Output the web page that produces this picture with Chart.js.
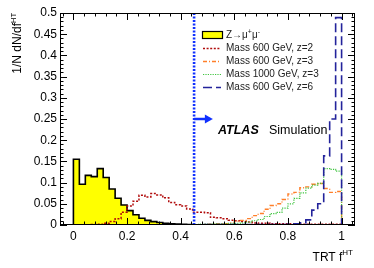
<!DOCTYPE html>
<html lang="en">
  <head>
    <meta charset="utf-8">
    <title>TRT fHT</title>
    <script src="https://cdn.jsdelivr.net/npm/chart.js@4.4.1/dist/chart.umd.min.js"></script>
    <style>
      body { margin: 0; background: #fff; }
    </style>
  </head>
  <body>
    <canvas id="fhtChart" width="374" height="268"></canvas>
  <script>
  // histogram: 45 bins between 0 and 1
  var nBins = 45;
  var xTicks = [0, 0.2, 0.4, 0.6, 0.8, 1];
  var cutValue = 0.45;

  var zmumu = [0.155, 0.096, 0.117, 0.114, 0.133, 0.112, 0.085, 0.063, 0.047, 0.034,
               0.024, 0.016, 0.011, 0.008, 0.006, 0.004, 0.003, 0.002, 0.0015, 0.001,
               0.0005, 0, 0, 0, 0, 0, 0, 0, 0, 0,
               0, 0, 0, 0, 0, 0, 0, 0, 0, 0,
               0, 0, 0, 0, 0];
  var m600z2 = [0, 0, 0, 0.001, 0.002, 0.004, 0.008, 0.015, 0.03, 0.045,
                0.056, 0.07, 0.066, 0.074, 0.071, 0.064, 0.053, 0.048, 0.045, 0.038,
                0.03, 0.03, 0.029, 0.018, 0.017, 0.015, 0.011, 0.01, 0.008, 0.007,
                0.005, 0.004, 0.004, 0.003, 0.003, 0.003, 0.003, 0.002, 0.002, 0.002,
                0.002, 0.002, 0.002, 0.002, 0.002];
  var m600z3 = [0, 0, 0, 0, 0, 0, 0, 0, 0, 0,
                0, 0, 0, 0, 0, 0, 0, 0, 0, 0,
                0.001, 0.001, 0.002, 0.002, 0.003, 0.003, 0.005, 0.009, 0.011, 0.015,
                0.022, 0.027, 0.037, 0.046, 0.05, 0.06, 0.073, 0.077, 0.088, 0.09,
                0.096, 0.098, 0.086, 0.077, 0.079];
  var m1000z3 = [0, 0, 0, 0, 0, 0, 0, 0, 0, 0,
                 0, 0, 0, 0, 0, 0, 0, 0, 0.001, 0.001,
                 0.001, 0.002, 0.002, 0.002, 0.003, 0.003, 0.004, 0.004, 0.005, 0.007,
                 0.01, 0.013, 0.02, 0.027, 0.03, 0.04, 0.05, 0.063, 0.076, 0.087,
                 0.094, 0.098, 0.133, 0.131, 0.127];
  var m600z6 = [0, 0, 0, 0, 0, 0, 0, 0, 0, 0,
                0, 0, 0, 0, 0, 0, 0, 0, 0, 0,
                0, 0, 0.001, 0.001, 0.001, 0.001, 0.001, 0.001, 0.001, 0.001,
                0.001, 0.001, 0.001, 0.001, 0.001, 0.001, 0.002, 0.003, 0.005, 0.012,
                0.035, 0.05, 0.163, 0.25, 0.489];

  var FONT = "'Liberation Sans', Arial, Helvetica, sans-serif";

  // turn bin contents into step points (left edges, closed at 0 and 1)
  function steps(vals){
    var pts = [{x: 0, y: 0}];
    for(var i = 0; i < vals.length; ++i){
      pts.push({x: i / nBins, y: vals[i]});
    }
    pts.push({x: 1, y: 0});
    return pts;
  }

  var series = [
    {label: "Mass 600 GeV, z=6",  vals: m600z6,  color: "#23239b", dash: [9, 4],       width: 1.6},
    {label: "Mass 1000 GeV, z=3", vals: m1000z3, color: "#3fc43f", dash: [1.2, 1.2],   width: 1.2},
    {label: "Mass 600 GeV, z=3",  vals: m600z3,  color: "#ff7f2a", dash: [4, 2, 1, 2], width: 1.4},
    {label: "Mass 600 GeV, z=2",  vals: m600z2,  color: "#b10c0c", dash: [2, 1.6],     width: 1.5}
  ];

  var datasets = [];
  datasets.push({
    data: [{x: cutValue, y: 0}, {x: cutValue, y: 0.5}],
    borderColor: "#1030ff", borderWidth: 2.6, borderDash: [2, 1.5],
    pointRadius: 0, order: 0
  });
  series.forEach(function(s, i){
    datasets.push({
      data: steps(s.vals), stepped: 'before',
      borderColor: s.color, borderWidth: s.width, borderDash: s.dash,
      pointRadius: 0, fill: false, order: i + 1
    });
  });
  datasets.push({
    data: steps(zmumu), stepped: 'before',
    borderColor: "#000", borderWidth: 1.6, backgroundColor: "#ffff00",
    pointRadius: 0, fill: 'origin', order: 10
  });

  // ROOT-like frame, inner ticks, legend and labels
  var rootDecor = {
    id: 'rootDecor',
    afterDatasetsDraw: function(chart){
      var ctx = chart.ctx, a = chart.chartArea;
      var xs = chart.scales.x, ys = chart.scales.y;
      ctx.save();
      ctx.strokeStyle = "#000"; ctx.lineWidth = 1; ctx.setLineDash([]);
      ctx.strokeRect(a.left + 0.5, a.top + 0.5, a.right - a.left - 1, a.bottom - a.top - 1);
      ctx.beginPath();
      var v, p, len;
      for(var k = -1; k <= 26; ++k){
        v = k * 0.04;
        if(v < xs.min || v > xs.max) continue;
        p = Math.round(xs.getPixelForValue(v)) + 0.5;
        len = (k % 5 === 0) ? 7 : 3.5;
        ctx.moveTo(p, a.bottom); ctx.lineTo(p, a.bottom - len);
        ctx.moveTo(p, a.top); ctx.lineTo(p, a.top + len);
      }
      for(k = 0; k <= 50; ++k){
        v = k * 0.01;
        p = Math.round(ys.getPixelForValue(v)) + 0.5;
        len = (k % 5 === 0) ? 7 : 3.5;
        ctx.moveTo(a.left, p); ctx.lineTo(a.left + len, p);
        ctx.moveTo(a.right, p); ctx.lineTo(a.right - len, p);
      }
      ctx.stroke();

      // cut arrow
      var ax = xs.getPixelForValue(cutValue), ay = ys.getPixelForValue(0.25);
      var ex = xs.getPixelForValue(0.52);
      ctx.strokeStyle = "#1030ff"; ctx.fillStyle = "#1030ff"; ctx.lineWidth = 2.5;
      ctx.beginPath(); ctx.moveTo(ax, ay); ctx.lineTo(ex - 6, ay); ctx.stroke();
      ctx.beginPath(); ctx.moveTo(ex - 8, ay - 4.5); ctx.lineTo(ex, ay); ctx.lineTo(ex - 8, ay + 4.5);
      ctx.closePath(); ctx.fill();

      // legend
      ctx.fillStyle = "#ffff00"; ctx.fillRect(202.5, 31.5, 20, 7);
      ctx.strokeStyle = "#000"; ctx.lineWidth = 1.2; ctx.strokeRect(202.5, 31.5, 20, 7);
      ctx.fillStyle = "#222"; ctx.textBaseline = "middle"; ctx.textAlign = "left";
      ctx.font = "10px " + FONT;
      var tx = 226;
      ctx.fillText("Z\u2192\u03bc", tx, 35);
      var w = ctx.measureText("Z\u2192\u03bc").width;
      ctx.font = "7px " + FONT; ctx.fillText("+", tx + w, 32);
      var w2 = ctx.measureText("+").width;
      ctx.font = "10px " + FONT; ctx.fillText("\u03bc", tx + w + w2, 35);
      var w3 = ctx.measureText("\u03bc").width;
      ctx.font = "7px " + FONT; ctx.fillText("-", tx + w + w2 + w3, 32);
      var rows = [series[3], series[2], series[1], series[0]];
      rows.forEach(function(s, i){
        var y = 48.5 + i * 13;
        ctx.strokeStyle = s.color; ctx.lineWidth = s.width; ctx.setLineDash(s.dash);
        ctx.beginPath(); ctx.moveTo(203, y); ctx.lineTo(221, y); ctx.stroke();
        ctx.setLineDash([]);
        ctx.fillStyle = "#222"; ctx.font = "10px " + FONT;
        ctx.fillText(s.label, tx, y);
      });

      // ATLAS Simulation
      ctx.textBaseline = "alphabetic";
      ctx.fillStyle = "#000";
      ctx.font = "italic bold 12.5px " + FONT;
      ctx.fillText("ATLAS", 218, 134);
      ctx.font = "12.5px " + FONT;
      ctx.fillText("Simulation", 269, 134);

      // x title
      ctx.font = "8px " + FONT;
      var sw = ctx.measureText("HT").width;
      ctx.textAlign = "right";
      ctx.fillText("HT", 353, 255);
      ctx.font = "12px " + FONT;
      ctx.fillText("TRT f", 353 - sw, 261);

      // y title (rotated)
      ctx.save();
      ctx.translate(21, 13);
      ctx.rotate(-Math.PI / 2);
      ctx.textAlign = "left";
      ctx.font = "7.5px " + FONT;
      var hw = ctx.measureText("HT").width;
      ctx.font = "12px " + FONT;
      var mw = ctx.measureText("1/N dN/df").width;
      ctx.fillText("1/N dN/df", -hw - mw, 0);
      ctx.font = "7.5px " + FONT;
      ctx.fillText("HT", -hw, -5);
      ctx.restore();
      ctx.restore();
    }
  };

  var ctx = document.getElementById('fhtChart');
  var fhtChart = new Chart(ctx, {
    type: 'line',
    data: {datasets: datasets},
    options: {
      responsive: false,
      animation: false,
      devicePixelRatio: 1,
      layout: {padding: {top: 13, right: 19, left: 0, bottom: 0}},
      plugins: {legend: {display: false}, tooltip: {enabled: false}},
      scales: {
        x: {
          type: 'linear', min: -0.05, max: 1.05,
          grid: {display: false, drawTicks: false}, border: {display: false},
          afterBuildTicks: function(s){ s.ticks = xTicks.map(function(v){ return {value: v}; }); },
          afterFit: function(s){ s.height = 43; },
          ticks: {
            autoSkip: false, maxRotation: 0, padding: 4, color: "#000",
            font: {family: FONT, size: 12},
            callback: function(v){ return String(+v.toFixed(2)); }
          }
        },
        y: {
          type: 'linear', min: 0, max: 0.5,
          grid: {display: false, drawTicks: false}, border: {display: false},
          afterFit: function(s){ s.width = 60; },
          ticks: {
            stepSize: 0.05, padding: 3, color: "#000",
            font: {family: FONT, size: 12},
            callback: function(v){ return String(+v.toFixed(2)); }
          }
        }
      }
    },
    plugins: [rootDecor]
  });
  </script>
  </body>
</html>
